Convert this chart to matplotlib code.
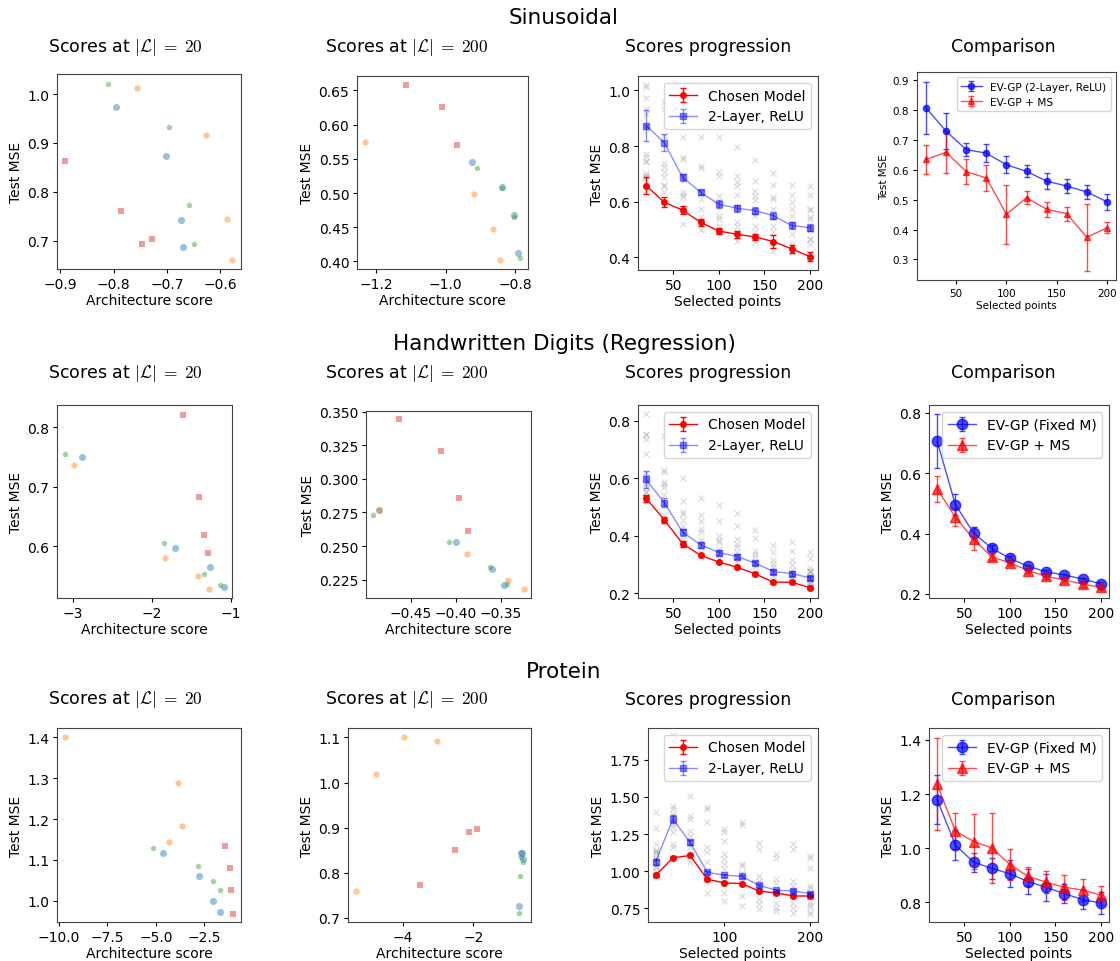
import matplotlib.pyplot as plt

plt.rcParams['mathtext.fontset'] = 'cm'
plt.rcParams['xtick.major.size'] = 3
plt.rcParams['ytick.major.size'] = 3
plt.rcParams['xtick.major.pad'] = 2.5
plt.rcParams['ytick.major.pad'] = 2.5

W, H = 1120, 962
steps = [20, 40, 60, 80, 100, 120, 140, 160, 180, 200]
colors = ['tab:blue', 'tab:orange', 'tab:green', 'tab:red']
markers = ['o', 'h', 'p', 's']
sizes = [26, 24, 20, 24]

# ---- Sinusoidal ----
# scatter lists ordered blue, orange, green, red
sin20_x = [[-0.795, -0.701, -0.674, -0.669], [-0.756, -0.6275, -0.587, -0.5775],
           [-0.811, -0.696, -0.659, -0.649], [-0.891, -0.786, -0.746, -0.7275]]
sin20_y = [[0.974, 0.873, 0.742, 0.686], [1.013, 0.916, 0.745, 0.660],
           [1.020, 0.933, 0.773, 0.693], [0.864, 0.760, 0.694, 0.703]]
sin200_x = [[-0.925, -0.839, -0.804, -0.793], [-1.232, -0.919, -0.864, -0.843],
            [-0.911, -0.838, -0.803, -0.788], [-1.115, -1.010, -0.967]]
sin200_y = [[0.545, 0.509, 0.468, 0.413], [0.574, 0.498, 0.447, 0.402],
            [0.537, 0.508, 0.465, 0.405], [0.658, 0.625, 0.570]]
sin_chosen = [0.658, 0.598, 0.570, 0.526, 0.495, 0.483, 0.474, 0.457, 0.431, 0.403]
sin_chosen_err = [0.030, 0.018, 0.015, 0.012, 0.012, 0.012, 0.012, 0.024, 0.015, 0.015]
sin_relu = [0.874, 0.812, 0.688, 0.634, 0.591, 0.577, 0.568, 0.550, 0.515, 0.507]
sin_relu_err = [0.055, 0.030, 0.013, 0.010, 0.015, 0.013, 0.013, 0.012, 0.012, 0.012]
sin_grid = [
    [0.958, 0.934, 0.836, 0.738, 0.724, 0.706, 0.688, 0.660, 0.655, 0.634, 0.598],
    [0.834, 0.762, 0.754, 0.688, 0.634, 0.624, 0.616, 0.568, 0.522],
    [0.834, 0.730, 0.721, 0.634, 0.610, 0.575, 0.544, 0.526, 0.500],
    [0.834, 0.706, 0.694, 0.622, 0.591, 0.550, 0.538, 0.514, 0.495],
    [0.798, 0.691, 0.672, 0.658, 0.624, 0.577, 0.526, 0.514, 0.490, 0.460],
    [0.751, 0.676, 0.640, 0.622, 0.606, 0.568, 0.550, 0.514, 0.490, 0.454],
    [0.702, 0.660, 0.616, 0.610, 0.574, 0.550, 0.514, 0.490, 0.457, 0.424],
    [0.660, 0.624, 0.598, 0.574, 0.550, 0.514, 0.484, 0.448, 0.418],
]
sin_evgp = [0.808, 0.729, 0.668, 0.656, 0.617, 0.595, 0.562, 0.546, 0.526, 0.493]
sin_evgp_err = [0.088, 0.060, 0.022, 0.030, 0.029, 0.020, 0.027, 0.025, 0.022, 0.026]
sin_ms = [0.635, 0.659, 0.594, 0.573, 0.451, 0.507, 0.468, 0.453, 0.374, 0.406]
sin_ms_err = [0.048, 0.070, 0.042, 0.045, 0.100, 0.023, 0.025, 0.023, 0.113, 0.019]

# ---- Handwritten digits ----
dig20_x = [[-2.878, -1.704, -1.264, -1.088], [-2.987, -1.834, -1.415, -1.277],
           [-3.10, -1.855, -1.348, -1.138], [-1.608, -1.411, -1.340, -1.298]]
dig20_y = [[0.749, 0.597, 0.565, 0.532], [0.736, 0.580, 0.550, 0.528],
           [0.754, 0.605, 0.553, 0.534], [0.821, 0.682, 0.618, 0.588]]
dig200_x = [[-0.485, -0.4002, -0.360, -0.3467], [-0.485, -0.388, -0.3422, -0.325],
            [-0.4913, -0.4072, -0.3625, -0.3434], [-0.4629, -0.416, -0.3969, -0.3862]]
dig200_y = [[0.2766, 0.2529, 0.2327, 0.2211], [0.2766, 0.2438, 0.225, 0.2178],
            [0.273, 0.2527, 0.2346, 0.2218], [0.3443, 0.3204, 0.286, 0.2613]]
dig_chosen = [0.530, 0.454, 0.372, 0.331, 0.308, 0.290, 0.267, 0.238, 0.238, 0.219]
dig_chosen_err = [0.012, 0.010, 0.010, 0.006, 0.005, 0.005, 0.005, 0.005, 0.005, 0.005]
dig_relu = [0.595, 0.514, 0.412, 0.368, 0.341, 0.327, 0.304, 0.275, 0.268, 0.253]
dig_relu_err = [0.028, 0.016, 0.012, 0.010, 0.010, 0.008, 0.008, 0.008, 0.008, 0.008]
dig_grid = [
    [0.746, 0.629, 0.620, 0.588, 0.580, 0.568, 0.540, 0.515, 0.472, 0.453],
    [0.600, 0.519, 0.482, 0.476, 0.453, 0.435, 0.412, 0.383, 0.366],
    [0.532, 0.472, 0.449, 0.424, 0.412, 0.383, 0.366, 0.343, 0.325],
    [0.505, 0.449, 0.400, 0.383, 0.377, 0.354, 0.337, 0.320],
    [0.479, 0.435, 0.389, 0.372, 0.360, 0.343, 0.325, 0.308],
    [0.421, 0.391, 0.348, 0.337, 0.325, 0.308, 0.290, 0.267],
    [0.366, 0.343, 0.314, 0.302, 0.290, 0.275, 0.261, 0.244],
    [0.377, 0.345, 0.314, 0.296, 0.279, 0.267, 0.256, 0.238],
]
dig_fixed = [0.706, 0.496, 0.402, 0.351, 0.318, 0.291, 0.273, 0.262, 0.249, 0.233]
dig_fixed_err = [0.090, 0.035, 0.020, 0.010, 0.006, 0.005, 0.005, 0.005, 0.005, 0.005]
dig_ms = [0.548, 0.454, 0.382, 0.322, 0.303, 0.277, 0.258, 0.246, 0.232, 0.222]
dig_ms_err = [0.043, 0.030, 0.038, 0.010, 0.008, 0.008, 0.008, 0.008, 0.008, 0.008]

# ---- Protein ----
pro20_x = [[-4.646, -2.775, -2.037, -1.677], [-9.657, -3.873, -3.633, -4.337],
           [-5.126, -2.843, -2.071, -1.677], [-1.419, -1.196, -1.110, -1.042]]
pro20_y = [[1.117, 1.061, 1.000, 0.972], [1.401, 1.288, 1.183, 1.144],
           [1.130, 1.086, 1.049, 1.027], [1.134, 1.081, 1.027, 0.968]]
pro200_x = [[-0.660, -0.623, -0.585, -0.717], [-3.962, -3.038, -4.755, -5.321],
            [-0.642, -0.604, -0.679, -0.717], [-1.906, -2.113, -2.519, -3.528]]
pro200_y = [[0.843, 0.843, 0.830, 0.727], [1.101, 1.092, 1.019, 0.760],
            [0.836, 0.825, 0.794, 0.710], [0.897, 0.890, 0.850, 0.772]]
pro_chosen = [0.973, 1.090, 1.106, 0.946, 0.921, 0.917, 0.867, 0.854, 0.833, 0.833]
pro_chosen_err = [0.012, 0.010, 0.010, 0.010, 0.010, 0.010, 0.010, 0.010, 0.010, 0.010]
pro_relu = [1.065, 1.351, 1.194, 0.993, 0.973, 0.966, 0.905, 0.872, 0.867, 0.849]
pro_relu_err = [0.020, 0.025, 0.015, 0.010, 0.010, 0.010, 0.010, 0.010, 0.010, 0.010]
pro_grid = [
    [1.914, 1.441, 1.419, 1.385, 1.363, 1.318, 1.295, 1.261, 1.183, 1.160],
    [1.730, 1.509, 1.374, 1.351, 1.273, 1.239, 1.194, 1.160, 1.104, 1.059],
    [1.430, 1.419, 1.329, 1.160, 1.126, 1.059, 0.991, 0.923, 0.856],
    [1.284, 1.261, 1.205, 1.115, 1.081, 1.047, 1.014, 0.912, 0.856, 0.800],
    [1.329, 1.311, 1.047, 1.036, 0.991, 0.935, 0.833, 0.766],
    [1.189, 1.149, 0.968, 0.935, 0.856, 0.811, 0.777, 0.743],
    [1.115, 1.092, 0.946, 0.923, 0.856, 0.788, 0.755, 0.732],
    [1.183, 1.149, 0.935, 0.901, 0.833, 0.788, 0.755, 0.720],
]
pro_fixed = [1.180, 1.012, 0.949, 0.926, 0.906, 0.877, 0.856, 0.832, 0.811, 0.798]
pro_fixed_err = [0.090, 0.055, 0.035, 0.040, 0.050, 0.045, 0.050, 0.035, 0.035, 0.040]
pro_ms = [1.236, 1.064, 1.025, 1.002, 0.940, 0.896, 0.875, 0.856, 0.846, 0.827]
pro_ms_err = [0.170, 0.068, 0.100, 0.130, 0.058, 0.035, 0.040, 0.045, 0.040, 0.035]


fig = plt.figure(figsize=(W / 100, H / 100), dpi=100)


def make_ax(l, t, r, b):
    ax = fig.add_axes([l / W, 1 - b / H, (r - l) / W, (b - t) / H])
    for s in ax.spines.values():
        s.set_color('#444444')
    return ax


def style(ax, xlabel, xlim, ylim, xt, yt, fs=10):
    ax.set_xlim(xlim)
    ax.set_ylim(ylim)
    ax.set_xticks(xt)
    ax.set_yticks(yt)
    ax.tick_params(labelsize=fs)
    ax.set_xlabel(xlabel, fontsize=fs, labelpad=2)
    ax.set_ylabel('Test MSE', fontsize=fs, labelpad=3)


def scatter_panel(ax, xs, ys):
    for c, m, sz, x, y in zip(colors, markers, sizes, xs, ys):
        ax.scatter(x, y, color=c, marker=m, s=sz, alpha=0.45, linewidths=0)


def progression_panel(ax, chosen, chosen_err, relu, relu_err, grid, first, last):
    columns = [first] + grid + [last]
    for step, vals in zip(steps, columns):
        ax.scatter([step] * len(vals), vals, marker='x', color='grey',
                   alpha=0.3, s=18, linewidths=0.8)
    ax.errorbar(steps, chosen, yerr=chosen_err, color='red', marker='o', ms=4,
                capsize=2, lw=1, label='Chosen Model')
    ax.errorbar(steps, relu, yerr=relu_err, color='blue', marker='s', ms=4,
                capsize=2, lw=1, alpha=0.45, label='2-Layer, ReLU')
    ax.legend(loc='upper right', fontsize=10)


def comparison_panel(ax, base, base_err, ms, ms_err, base_label, size, fs):
    ax.errorbar(steps, base, yerr=base_err, color='blue', marker='o', ms=size,
                capsize=2, lw=1, alpha=0.7, label=base_label)
    ax.errorbar(steps, ms, yerr=ms_err, color='red', marker='^', ms=size,
                capsize=2, lw=1, alpha=0.7, label='EV-GP + MS')
    ax.legend(loc='upper right', fontsize=fs)


def flat(lists):
    return [v for sub in lists for v in sub]


title20 = r'Scores at $|\mathcal{L}|\;=\;20$'
title200 = r'Scores at $|\mathcal{L}|\;=\;200$'
row_titles = ['Sinusoidal', 'Handwritten Digits (Regression)', 'Protein']
row_title_y = [18, 344, 672]
sub_title_y = [47, 373, 700]
for rt, ry, sy in zip(row_titles, row_title_y, sub_title_y):
    fig.text(564 / W, 1 - ry / H, rt, ha='center', va='center', fontsize=15.5)
    for cx, txt in zip([125, 407, 708, 1003],
                       [title20, title200, 'Scores progression', 'Comparison']):
        fig.text(cx / W, 1 - sy / H, txt, ha='center', va='center', fontsize=12.5)

# Row 1
ax = make_ax(57, 75, 241, 270)
scatter_panel(ax, sin20_x, sin20_y)
style(ax, 'Architecture score', (-0.906, -0.561), (0.642, 1.041),
      [-0.9, -0.8, -0.7, -0.6], [0.7, 0.8, 0.9, 1.0])

ax = make_ax(357, 77, 528, 270)
scatter_panel(ax, sin200_x, sin200_y)
style(ax, 'Architecture score', (-1.254, -0.764), (0.389, 0.671),
      [-1.2, -1.0, -0.8], [0.40, 0.45, 0.50, 0.55, 0.60, 0.65])

ax = make_ax(638, 77, 818, 271)
progression_panel(ax, sin_chosen, sin_chosen_err, sin_relu, sin_relu_err,
                  sin_grid, flat(sin20_y), flat(sin200_y))
style(ax, 'Selected points', (11, 209), (0.355, 1.052),
      [50, 100, 150, 200], [0.4, 0.6, 0.8, 1.0])

ax = make_ax(917, 73, 1116, 281)
comparison_panel(ax, sin_evgp, sin_evgp_err, sin_ms, sin_ms_err,
                 'EV-GP (2-Layer, ReLU)', 4.5, 7.6)
style(ax, 'Selected points', (11, 209), (0.231, 0.928),
      [50, 100, 150, 200], [0.3, 0.4, 0.5, 0.6, 0.7, 0.8, 0.9], fs=7.5)

# Row 2
ax = make_ax(57, 406, 232, 599)
scatter_panel(ax, dig20_x, dig20_y)
style(ax, 'Architecture score', (-3.2, -0.99), (0.513, 0.837),
      [-3, -2, -1], [0.6, 0.7, 0.8])

ax = make_ax(366, 412, 531, 599)
scatter_panel(ax, dig200_x, dig200_y)
style(ax, 'Architecture score', (-0.4996, -0.3167), (0.2114, 0.3505),
      [-0.45, -0.40, -0.35], [0.225, 0.250, 0.275, 0.300, 0.325, 0.350])

ax = make_ax(638, 406, 818, 599)
progression_panel(ax, dig_chosen, dig_chosen_err, dig_relu, dig_relu_err,
                  dig_grid, flat(dig20_y), flat(dig200_y))
style(ax, 'Selected points', (11, 209), (0.183, 0.854),
      [50, 100, 150, 200], [0.2, 0.4, 0.6, 0.8])

ax = make_ax(929, 406, 1109, 599)
comparison_panel(ax, dig_fixed, dig_fixed_err, dig_ms, dig_ms_err,
                 'EV-GP (Fixed M)', 7.5, 10)
style(ax, 'Selected points', (11, 209), (0.186, 0.8265),
      [50, 100, 150, 200], [0.2, 0.4, 0.6, 0.8])

# Row 3
ax = make_ax(57, 729, 241, 923)
scatter_panel(ax, pro20_x, pro20_y)
style(ax, 'Architecture score', (-10.09, -0.61), (0.948, 1.423),
      [-10.0, -7.5, -5.0, -2.5], [1.0, 1.1, 1.2, 1.3, 1.4])

ax = make_ax(348, 729, 531, 923)
scatter_panel(ax, pro200_x, pro200_y)
style(ax, 'Architecture score', (-5.557, -0.368), (0.691, 1.121),
      [-4, -2], [0.7, 0.8, 0.9, 1.0, 1.1])

ax = make_ax(648, 729, 818, 923)
progression_panel(ax, pro_chosen, pro_chosen_err, pro_relu, pro_relu_err,
                  pro_grid, flat(pro20_y), flat(pro200_y))
style(ax, 'Selected points', (11, 209), (0.658, 1.964),
      [100, 200], [0.75, 1.00, 1.25, 1.50, 1.75])

ax = make_ax(929, 729, 1109, 923)
comparison_panel(ax, pro_fixed, pro_fixed_err, pro_ms, pro_ms_err,
                 'EV-GP (Fixed M)', 7.5, 10)
style(ax, 'Selected points', (11, 209), (0.728, 1.444),
      [50, 100, 150, 200], [0.8, 1.0, 1.2, 1.4])

fig.savefig('out.png', dpi=100)
